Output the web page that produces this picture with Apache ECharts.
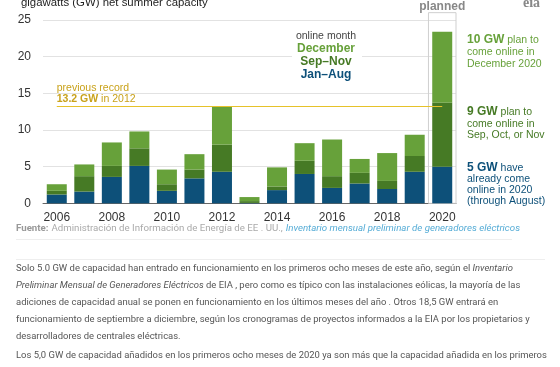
<!DOCTYPE html>
<html><head><meta charset="utf-8">
<script src="https://cdn.jsdelivr.net/npm/echarts@6/dist/echarts.min.js"></script>
<style>html,body{margin:0;padding:0;background:#fff;}#c{width:560px;height:367px;}</style>
</head><body><div id="c"></div>
<script>
const years = ['2006','2007','2008','2009','2010','2011','2012','2013','2014','2015','2016','2017','2018','2019','2020'];
const janAug = [1.2, 1.6, 3.6, 5.1, 1.7, 3.4, 4.3, 0.05, 1.8, 4.0, 2.1, 2.7, 1.95, 4.3, 5.0];
const sepNov = [0.5, 2.1, 1.5, 2.4, 0.9, 1.2, 3.7, 0.25, 0.5, 1.8, 1.6, 1.45, 1.1, 2.15, 8.7];
const december = [0.9, 1.6, 3.2, 2.3, 2.0, 2.1, 5.2, 0.55, 2.6, 2.4, 5.0, 1.9, 3.8, 2.9, 9.7];
const previousRecord = 13.2;
const yTicks = [0, 5, 10, 15, 20, 25];

const C_NAVY = '#0d5079', C_DARK = '#467a25', C_LIGHT = '#67a13a', C_GOLD = '#c9a21a';
const F = 'Liberation Sans, Arial, sans-serif';
const FP = 'Roboto, Arial, sans-serif';

const chart = echarts.init(document.getElementById('c'));
const option = {
  animation: false,
  grid: {left: 43, right: 104, top: 20, bottom: 163.7, containLabel: false},
  xAxis: {
    type: 'category', data: years,
    axisTick: {show: false},
    axisLine: {lineStyle: {color: '#666', width: 1}},
    axisLabel: {interval: 1, color: '#333', fontSize: 12, fontFamily: F, margin: 8}
  },
  yAxis: {
    type: 'value', min: 0, max: 25, interval: 5,
    axisLabel: {color: '#333', fontSize: 12, fontFamily: F, margin: 12},
    splitLine: {lineStyle: {color: '#e2e2e2', width: 1}},
    axisLine: {show: false}, axisTick: {show: false}
  },
  series: [
    {name: 'Jan–Aug', type: 'bar', stack: 's', data: janAug, barWidth: 20, itemStyle: {color: C_NAVY}},
    {name: 'Sep–Nov', type: 'bar', stack: 's', data: sepNov, barWidth: 20, itemStyle: {color: C_DARK}},
    {name: 'December', type: 'bar', stack: 's', data: december, barWidth: 20, itemStyle: {color: C_LIGHT},
      markLine: {
        silent: true, symbol: ['none','none'], label: {show: false},
        lineStyle: {color: '#e6c22a', width: 1, type: 'solid'},
        data: [[{coord: [years[0], previousRecord]}, {coord: [years[years.length-1], previousRecord]}]]
      }
    }
  ]
};
chart.setOption(option);

const c20 = chart.convertToPixel({xAxisIndex: 0}, '2020');
const c19 = chart.convertToPixel({xAxisIndex: 0}, '2019');
const band = c20 - c19;
const yTop = chart.convertToPixel({yAxisIndex: 0}, 26);
const y0 = chart.convertToPixel({yAxisIndex: 0}, 0);
const yRec = chart.convertToPixel({yAxisIndex: 0}, previousRecord);
const x06 = chart.convertToPixel({xAxisIndex: 0}, '2006');

function t(x, y, text, style) {
  return {type: 'text', silent: true, style: Object.assign({x: x, y: y, text: text, fontFamily: F, fontSize: 10.5, fill: '#333', verticalAlign: 'middle', align: 'left'}, style || {})};
}
const rightX = c20 + band/2 + 11;
const pLines = [
  '{n|Solo 5.0 GW de capacidad han entrado en funcionamiento en los primeros ocho meses de este año, según el }{i|Inventario}',
  '{i|Preliminar Mensual de Generadores Eléctricos}{n| de EIA , pero como es típico con las instalaciones eólicas, la mayoría de las}',
  '{n|adiciones de capacidad anual se ponen en funcionamiento en los últimos meses del año . Otros 18,5 GW entrará en}',
  '{n|funcionamiento de septiembre a diciembre, según los cronogramas de proyectos informados a la EIA por los propietarios y}',
  '{n|desarrolladores de centrales eléctricas.}',
  '{n|Los 5,0 GW de capacidad añadidos en los primeros ocho meses de 2020 ya son más que la capacidad añadida en los primeros}'
];
const pY = [269, 286, 303, 320, 337, 356];
const PS = 9.45;
const pRich = {n: {fontFamily: FP, fontSize: PS, fill: '#555'}, i: {fontFamily: FP, fontSize: PS, fill: '#555', fontStyle: 'italic'}};

const g = [
  {type: 'rect', silent: true, z: 1, shape: {x: c20 - band/2, y: yTop, width: band, height: y0 - yTop}, style: {fill: 'none', stroke: '#cfcfcf', lineWidth: 1}},
  t(c20, 7, 'planned', {align: 'center', fontWeight: 'bold', fontSize: 12, fill: '#888'}),
  t(21, 3, 'gigawatts (GW) net summer capacity', {fontSize: 11.4, fill: '#222'}),
  t(523, 3, 'eia', {fontFamily: 'Liberation Serif, serif', fontSize: 14, fill: '#888', fontWeight: 'bold'}),
  {type: 'rect', silent: true, z: 5, shape: {x: 292, y: 30, width: 70, height: 52}, style: {fill: '#fff'}},
  Object.assign(t(326, 36, 'online month', {align: 'center', fontSize: 10.5, fill: '#444'}), {z: 6}),
  Object.assign(t(326, 49, 'December', {align: 'center', fontSize: 12, fontWeight: 'bold', fill: C_LIGHT}), {z: 6}),
  Object.assign(t(326, 62, 'Sep–Nov', {align: 'center', fontSize: 12, fontWeight: 'bold', fill: C_DARK}), {z: 6}),
  Object.assign(t(326, 75, 'Jan–Aug', {align: 'center', fontSize: 12, fontWeight: 'bold', fill: C_NAVY}), {z: 6}),
  t(x06, yRec - 18, 'previous record', {fontSize: 10.5, fill: C_GOLD}),
  t(x06, yRec - 7, '{b|13.2 GW} in 2012', {fontSize: 10.5, fill: C_GOLD, rich: {b: {fontWeight: 'bold', fontSize: 10.5, fill: C_GOLD, fontFamily: F}}}),
  t(rightX, 40, '{b|10 GW} plan to', {fill: C_LIGHT, rich: {b: {fontWeight: 'bold', fontSize: 12, fill: C_LIGHT, fontFamily: F}}}),
  t(rightX, 52, 'come online in', {fill: C_LIGHT}),
  t(rightX, 64, 'December 2020', {fill: C_LIGHT}),
  t(rightX, 112, '{b|9 GW} plan to', {fill: C_DARK, rich: {b: {fontWeight: 'bold', fontSize: 12, fill: C_DARK, fontFamily: F}}}),
  t(rightX, 124, 'come online in', {fill: C_DARK}),
  t(rightX, 135, 'Sep, Oct, or Nov', {fill: C_DARK}),
  t(rightX, 168, '{b|5 GW} have', {fill: C_NAVY, rich: {b: {fontWeight: 'bold', fontSize: 12, fill: C_NAVY, fontFamily: F}}}),
  t(rightX, 179, 'already come', {fill: C_NAVY}),
  t(rightX, 190, 'online in 2020', {fill: C_NAVY}),
  t(rightX, 201, '(through August)', {fill: C_NAVY}),
  t(16, 229, '{b|Fuente:} {n|Administración de Información de Energía de EE . UU.,} {i|Inventario mensual preliminar de generadores eléctricos}', {rich: {
    b: {fontFamily: FP, fontSize: 9.7, fontWeight: 'bold', fill: '#999'},
    n: {fontFamily: FP, fontSize: 9.7, fill: '#aaa'},
    i: {fontFamily: FP, fontSize: 9.7, fontStyle: 'italic', fill: '#55acd6'}}}),
  {type: 'line', silent: true, shape: {x1: 16, y1: 239.5, x2: 512, y2: 239.5}, style: {stroke: '#eee', lineWidth: 1}},
  {type: 'line', silent: true, shape: {x1: 16, y1: 259.5, x2: 545, y2: 259.5}, style: {stroke: '#eee', lineWidth: 1}}
];
pLines.forEach((s, i) => g.push(t(16, pY[i], s, {rich: pRich})));
chart.setOption({graphic: g});
</script></body></html>
